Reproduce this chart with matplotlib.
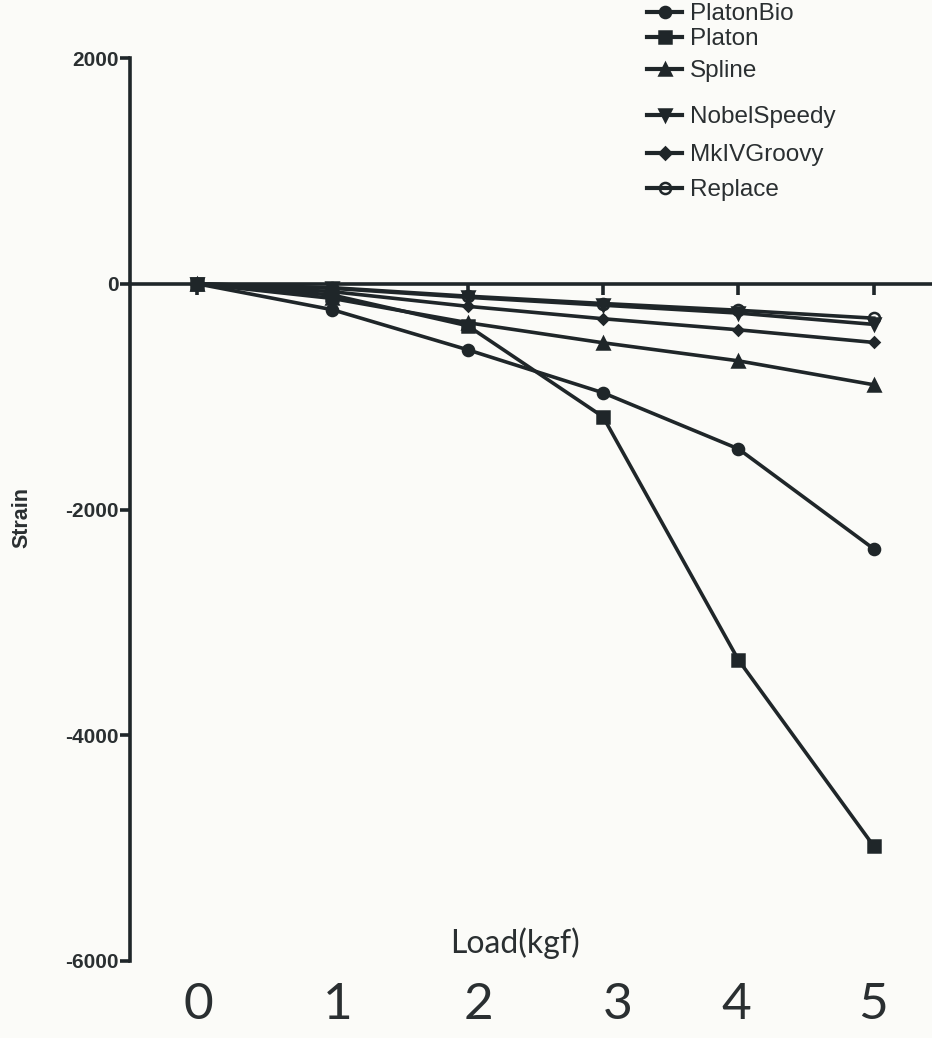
import matplotlib.pyplot as plt
from matplotlib.lines import Line2D

# Load (kgf) vs strain
loads = [0, 1, 2, 3, 4, 5]
platon_bio = [0, -230, -585, -966, -1463, -2349]
platon = [0, -100, -372, -1179, -3333, -4983]
spline = [0, -130, -345, -523, -683, -895]
nobel_speedy = [0, -40, -120, -190, -260, -360]
mkiv_groovy = [0, -70, -200, -310, -408, -520]
replace = [0, -35, -110, -175, -235, -305]

series_names = ["PlatonBio", "Platon", "Spline", "NobelSpeedy", "MkIVGroovy", "Replace"]
series_markers = ["o", "s", "^", "v", "D", "o"]
series_values = [platon_bio, platon, spline, nobel_speedy, mkiv_groovy, replace]
legend_y_px = [14, 39, 71, 117, 155, 190]  # legend rows are unevenly spaced

y_ticks = [2000, 0, -2000, -4000, -6000]
big_tick_labels = ["0", "1", "2", "3", "4", "5"]
big_tick_px = [198, 338, 478, 618, 736, 873]

ink = "#1f2629"
txt = "#2a2f31"
W, H = 932, 1038

fig = plt.figure(figsize=(W / 100, H / 100), dpi=100, facecolor="#fbfbf8")
ax = fig.add_axes([130 / W, 1 - 961 / H, 1 - 130 / W, (961 - 58) / H])
ax.set_facecolor("none")

for name, mk, vals in zip(series_names, series_markers, series_values):
    face = "none" if name == "Replace" else ink
    ms = 5.5 if mk == "D" else 8
    ax.plot(loads, vals, color=ink, lw=2.6, marker=mk, markersize=ms,
            markerfacecolor=face, markeredgecolor=ink, markeredgewidth=1.8,
            label=name, clip_on=False)

ax.set_xlim(-0.495, 5.43)
ax.set_ylim(-6000, 2000)

for s in ["top", "right"]:
    ax.spines[s].set_visible(False)
ax.spines["bottom"].set_position(("data", 0))
for s in ["left", "bottom"]:
    ax.spines[s].set_linewidth(2.6)
    ax.spines[s].set_color(ink)

ax.set_xticks(loads)
ax.tick_params(axis="x", direction="out", length=8, width=2.6, color=ink,
               labelbottom=False)
ax.set_yticks(y_ticks)
ax.set_yticklabels([str(t) for t in y_ticks], fontweight="bold",
                   fontsize=15, family="Liberation Sans", color=txt)
ax.tick_params(axis="y", direction="out", length=7, width=2.6, color=ink, pad=1)

fig.text(22 / W, 1 - 518 / H, "Strain", rotation=90, ha="center", va="center",
         fontweight="bold", fontsize=15.5, family="Liberation Sans", color=txt)

for name, mk, py in zip(series_names, series_markers, legend_y_px):
    h = Line2D([], [], color=ink, lw=3, marker=mk,
               markersize=6 if mk == "D" else 8,
               markerfacecolor="none" if name == "Replace" else ink,
               markeredgecolor=ink, markeredgewidth=1.8)
    fig.legend([h], [name], loc="center left",
               bbox_to_anchor=(647 / W, 1 - py / H), frameon=False,
               prop={"family": "Liberation Sans", "size": 17.5},
               handlelength=1.45, handletextpad=0.3, borderpad=0,
               borderaxespad=0, labelcolor=txt)

fig.text(515 / W, 1 - 943 / H, "Load(kgf)", ha="center", va="center",
         fontsize=23, family="Lato", color=txt)
for lab, px in zip(big_tick_labels, big_tick_px):
    fig.text(px / W, 1 - 1005 / H, lab, ha="center", va="center",
             fontsize=37, family="Lato", color=txt)

fig.savefig("out.png", dpi=100, facecolor=fig.get_facecolor())
